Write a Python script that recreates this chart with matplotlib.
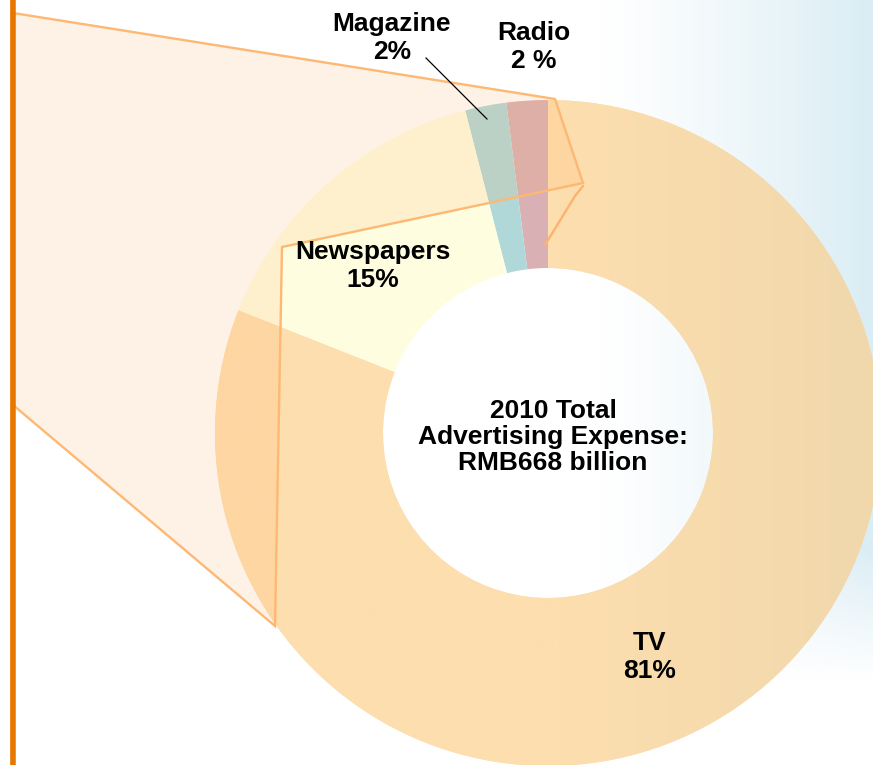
import numpy as np
import matplotlib
matplotlib.use("Agg")
import matplotlib.pyplot as plt
from matplotlib.patches import Polygon

plt.rcParams['font.family'] = ['Liberation Sans', 'DejaVu Sans']

# Share of 2010 advertising spend by medium
categories = ["Radio", "Magazine", "Newspapers", "TV"]
shares = [2, 2, 15, 81]
pct_labels = ["2 %", "2%", "15%", "81%"]
center_title = "2010 Total\nAdvertising Expense:\nRMB668 billion"

colors = ["#D9B0B4", "#B0D8D8", "#FFFDE0", "#FDDEAF"]

W, H = 873, 765
fig = plt.figure(figsize=(W / 100, H / 100), dpi=100)
ax = fig.add_axes([0, 0, 1, 1])

def img_y(y):
    return H - y

# soft blue wash on the right-hand side
xs = np.linspace(0, W, W)
ys = np.linspace(0, H, H)
gx, gy = np.meshgrid(xs, ys)
wx = np.clip((gx - 600) / 273, 0, 1) ** 1.2
wy = np.clip((680 - gy) / 130, 0, 1)
w = (wx * wy)[..., None]
blue = np.array([218, 237, 244]) / 255
bg = (1 - w) * 1.0 + w * blue
ax.imshow(bg, extent=(0, W, 0, H), origin="upper", zorder=0, interpolation="bilinear")

cx, cy = 548, img_y(433)
r_out, ring = 333, 168
wedges, _ = ax.pie(shares, colors=colors, startangle=90, counterclock=True,
                   radius=r_out, center=(cx, cy), frame=True,
                   wedgeprops=dict(width=ring, linewidth=0))
for wdg in wedges:
    wdg.set_zorder(2)

# TV ring darkens slightly towards the right
tv_grad = np.zeros((2, 400, 3))
t = np.clip((np.linspace(215, 881, 400) - 560) / 320, 0, 1)
left = np.array([253, 222, 175]) / 255
right = np.array([240, 216, 172]) / 255
tv_grad[:] = (1 - t)[:, None] * left + t[:, None] * right
im = ax.imshow(tv_grad, extent=(215, 881, cy - r_out, cy + r_out), zorder=3,
               interpolation="bilinear", aspect="auto")
im.set_clip_path(wedges[3])

# callout frame linking the chart to the side bar
frame_pts = [(13, 13), (555, 99), (583, 183), (282, 247), (275, 626), (13, 405)]
poly = Polygon([(x, img_y(y)) for x, y in frame_pts], closed=True,
               facecolor=(253 / 255, 170 / 255, 90 / 255, 0.15),
               edgecolor="#FDB874", linewidth=1.7, zorder=5, joinstyle="miter")
ax.add_patch(poly)
tail = [(583, 186), (575, 196), (545, 245)]
ax.plot([p[0] for p in tail], [img_y(p[1]) for p in tail], color="#FDB270",
        lw=1.7, zorder=5, solid_capstyle="round")

# side bar
ax.plot([9.5, 9.5], [0, H], color="#F7DCCB", lw=0.8, zorder=6)
ax.plot([12.5, 12.5], [0, H], color="#E87700", lw=4.0, zorder=6, solid_capstyle="butt")

# labels
label_pos = {"Radio": (534, 47), "Magazine": (392, 38), "Newspapers": (373, 266), "TV": (650, 657)}
for cat, pct in zip(categories, pct_labels):
    x, y = label_pos[cat]
    ax.text(x, img_y(y), f"{cat}\n{pct}", ha="center", va="center", fontsize=19,
            fontweight="bold", linespacing=1.22, zorder=10, color="black")

ax.plot([426, 487], [img_y(58), img_y(119)], color="black", lw=0.9, zorder=9)

ax.text(553, img_y(437), center_title, ha="center", va="center", fontsize=19,
        fontweight="bold", linespacing=1.12, zorder=10, color="black")

ax.set_xlim(0, W)
ax.set_ylim(0, H)
ax.set_aspect("equal", adjustable="box")
ax.axis("off")

fig.savefig("out.png", dpi=100)
